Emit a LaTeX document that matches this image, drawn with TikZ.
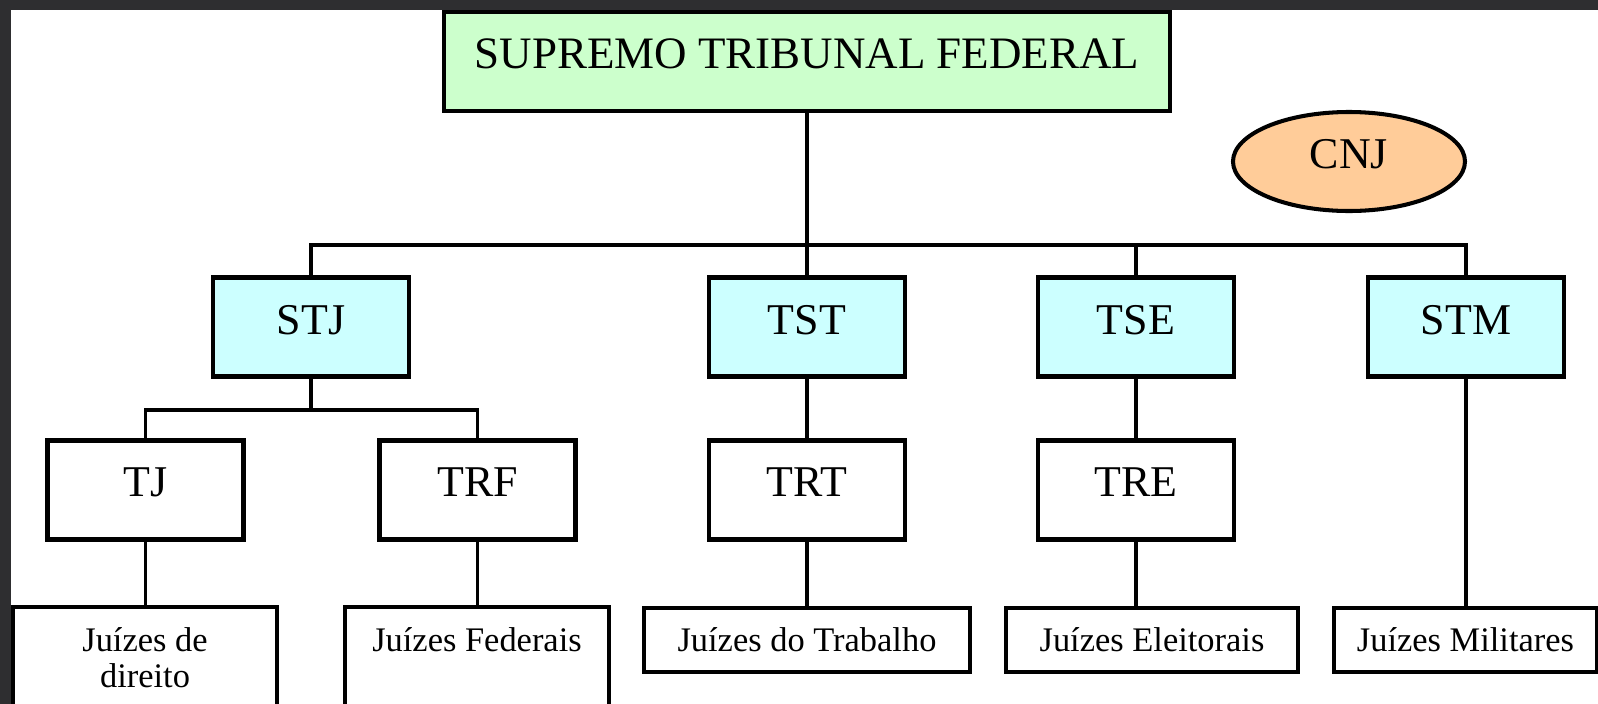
\documentclass[tikz,border=0pt]{standalone}
\usepackage{fontspec}
\setmainfont{Liberation Serif}
\usepackage{tikz}
\usetikzlibrary{shapes}
\definecolor{framegray}{HTML}{2E2E30}
\definecolor{supgreen}{HTML}{CCFFCC}
\definecolor{courtcyan}{HTML}{CCFFFF}
\definecolor{cnjorange}{HTML}{FFCC99}

\begin{document}
\begin{tikzpicture}
            [line width=0.95pt,
            box/.style={rectangle, draw=black, line width=1.15pt, inner sep=0pt, align=center},
            court/.style={box, minimum width=1.96cm, minimum height=0.99cm, text depth=0.15cm, font=\fontsize{12.5}{15}\selectfont},
            judges/.style={box, font=\fontsize{9.8}{10.24}\selectfont}]

            \useasboundingbox (0,0) rectangle (15.98,-7.04);
            \fill[white] (0,0) rectangle (15.98,-7.04);
            \fill[framegray] (0,0) rectangle (15.98,-0.10);
            \fill[framegray] (0,0) rectangle (0.11,-7.04);

            \node[box, fill=supgreen, minimum width=7.26cm, minimum height=0.99cm, text depth=0.15cm, font=\fontsize{12.8}{15}\selectfont] (sup) at (8.07,-0.615) {SUPREMO TRIBUNAL FEDERAL};
            \node[ellipse, draw=black, line width=1.15pt, fill=cnjorange, inner sep=0pt, minimum width=2.32cm, minimum height=0.99cm, text depth=0.15cm, font=\fontsize{12.5}{15}\selectfont] (cnj) at (13.49,-1.615) {CNJ};

            \node[court, fill=courtcyan] (stj) at (3.11,-3.27) {STJ};
            \node[court, fill=courtcyan] (tst) at (8.07,-3.27) {TST};
            \node[court, fill=courtcyan] (tse) at (11.36,-3.27) {TSE};
            \node[court, fill=courtcyan] (stm) at (14.66,-3.27) {STM};

            \node[court] (tj) at (1.455,-4.90) {TJ};
            \node[court] (trf) at (4.775,-4.90) {TRF};
            \node[court] (trt) at (8.07,-4.90) {TRT};
            \node[court] (tre) at (11.36,-4.90) {TRE};

            \node[judges, minimum width=2.64cm, minimum height=1.02cm] (jdir) at (1.45,-6.58) {Juízes de\\direito};
            \node[judges, minimum width=2.64cm, minimum height=1.02cm, text depth=0.36cm] (jfed) at (4.77,-6.58) {Juízes Federais};
            \node[judges, minimum width=3.26cm, minimum height=0.64cm] (jtrab) at (8.07,-6.40) {Juízes do Trabalho};
            \node[judges, minimum width=2.92cm, minimum height=0.64cm] (jele) at (11.52,-6.40) {Juízes Eleitorais};
            \node[judges, minimum width=2.63cm, minimum height=0.64cm] (jmil) at (14.655,-6.40) {Juízes Militares};

            \coordinate (bus) at (8.07,-2.45);
            \coordinate (stjbus) at (3.11,-4.10);

            \draw (sup) -- (tst);
            \draw (stj.north) |- (bus) -| (stm.north);
            \draw (tse.north) -- (tse.north |- bus);
            \draw (stj.south) -- (stj.south |- stjbus);
            \draw (tj.north) |- (stjbus) -| (trf.north);
            \draw (tst) -- (trt);
            \draw (tse) -- (tre);
            \draw (tj.south) -- (tj.south |- jdir.north);
            \draw (trf.south) -- (trf.south |- jfed.north);
            \draw (trt) -- (jtrab);
            \draw (tre.south) -- (tre.south |- jele.north);
            \draw (stm.south) -- (stm.south |- jmil.north);
        \end{tikzpicture}
\end{document}
